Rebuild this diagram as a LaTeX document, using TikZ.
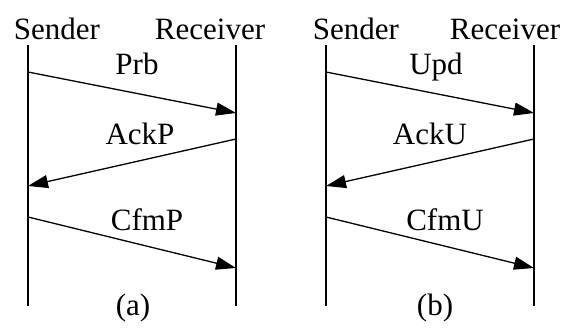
\documentclass[tikz,border=0pt]{standalone}
\usepackage{fontspec}
\setmainfont{Liberation Serif}
\usetikzlibrary{arrows.meta}

\tikzset{
	lifeline/.style={line width=1.3pt},
	msg/.style={line width=1.3pt, -{Triangle[length=20pt,width=13pt]}},
	lbl/.style={anchor=base, inner sep=0pt, font=\fontsize{31}{34}\selectfont}
}

\begin{document}
\begin{tikzpicture}[x=1pt, y=-1pt]
			\useasboundingbox (0, 0) rectangle (566, 328);

			% (a) probe
			\coordinate (sa) at (28, 45);
			\coordinate (ra) at (236, 45);
			\coordinate (sa end) at (28, 306);
			\coordinate (ra end) at (236, 306);
			\draw [lifeline] (sa) -- (sa end);
			\draw [lifeline] (ra) -- (ra end);
			\node [lbl] (sa name) at (57, 40) {Sender};
			\node [lbl] (ra name) at (210, 40) {Receiver};

			\coordinate (a1) at (28, 72);
			\coordinate (a2) at (236, 113);
			\coordinate (a3) at (236, 139);
			\coordinate (a4) at (28, 186);
			\coordinate (a5) at (28, 217);
			\coordinate (a6) at (236, 268);
			\draw [msg] (a1) -- (a2);
			\draw [msg] (a3) -- (a4);
			\draw [msg] (a5) -- (a6);
			\node [lbl] (prb) at (137, 75) {Prb};
			\node [lbl] (ackp) at (140, 145) {AckP};
			\node [lbl] (cfmp) at (147, 231) {CfmP};
			\node [lbl] (cap a) at (133, 316) {(a)};

			% (b) update
			\coordinate (sb) at (326, 45);
			\coordinate (rb) at (534, 45);
			\coordinate (sb end) at (326, 306);
			\coordinate (rb end) at (534, 306);
			\draw [lifeline] (sb) -- (sb end);
			\draw [lifeline] (rb) -- (rb end);
			\node [lbl] (sb name) at (356, 40) {Sender};
			\node [lbl] (rb name) at (505, 40) {Receiver};

			\coordinate (b1) at (326, 72);
			\coordinate (b2) at (534, 113);
			\coordinate (b3) at (534, 139);
			\coordinate (b4) at (326, 186);
			\coordinate (b5) at (326, 217);
			\coordinate (b6) at (534, 268);
			\draw [msg] (b1) -- (b2);
			\draw [msg] (b3) -- (b4);
			\draw [msg] (b5) -- (b6);
			\node [lbl] (upd) at (436, 75) {Upd};
			\node [lbl] (acku) at (430, 145) {AckU};
			\node [lbl] (cfmu) at (445, 231) {CfmU};
			\node [lbl] (cap b) at (435, 316) {(b)};
		\end{tikzpicture}
\end{document}
